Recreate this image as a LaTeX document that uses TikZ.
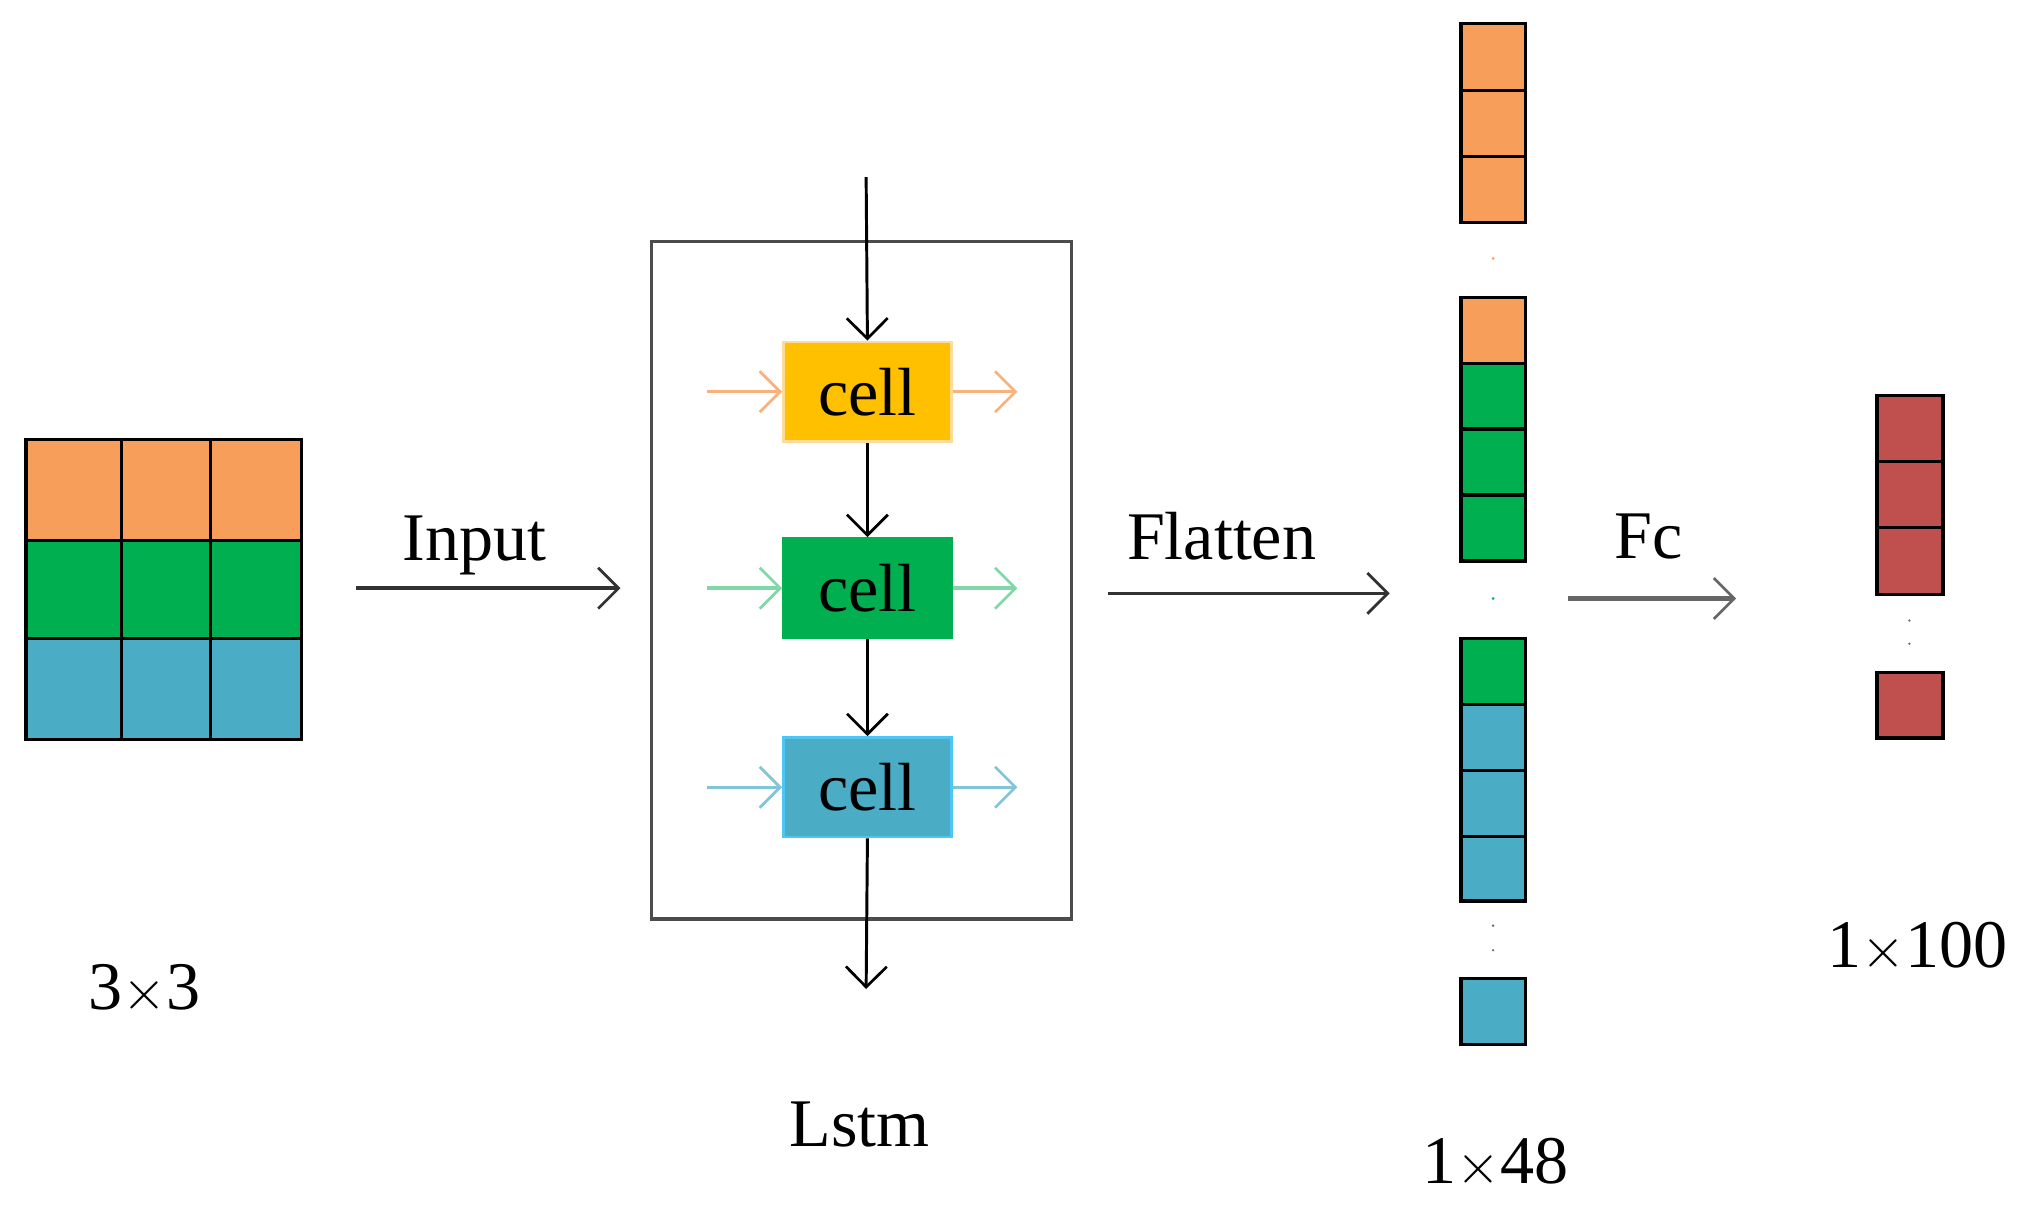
\documentclass[tikz,border=0pt]{standalone}
\usepackage{fontspec}
\setmainfont{Liberation Serif}
\usetikzlibrary{arrows.meta}
\definecolor{org}{HTML}{F79F5A}
\definecolor{grn}{HTML}{00B050}
\definecolor{blu}{HTML}{4BACC6}
\definecolor{yel}{HTML}{FFC000}
\definecolor{red2}{HTML}{C0504D}
\begin{document}
\begin{tikzpicture}[x=0.02cm,y=-0.02cm,
 lbl/.style={font=\fontsize{30}{32}\selectfont},
 tip/.style={-{Straight Barb[length=9pt,width=18pt,line width=1.2pt]}},
 cellbox/.style={draw=black,line width=1.5pt},
 cellnode/.style={minimum width=2.6cm,minimum height=1.54cm,line width=1.2pt,font=\fontsize{30}{32}\selectfont}]
\useasboundingbox (0,0) rectangle (1568,940);
% grid
\foreach \c/\a/\b in {org/340/418,grn/418/494,blu/494/572}{
 \foreach \x/\y in {20/94,94/163,163/233}{
  \fill[\c] (\x,\a) rectangle (\y,\b);
  \draw[cellbox] (\x,\a) rectangle (\y,\b);}}
\node[lbl] (g) at (112,765) {3$\times$3};
% input arrow
\coordinate (i1) at (275,455); \coordinate (i2) at (480,455);
\draw[tip,line width=1.5pt,black!80] (i1) -- (i2);
\node[lbl] (il) at (367,422) {Input};
% lstm
\draw[line width=1.5pt,black!70] (504,187) rectangle (829,711);
\node[cellnode,fill=yel,draw=yel!60!orange!40] (c1) at (671,303) {cell};
\node[cellnode,fill=grn,draw=grn] (c2) at (671,455) {cell};
\node[cellnode,fill=blu,draw=cyan!70] (c3) at (671,609) {cell};
\coordinate (top) at (670,137); \coordinate (bot) at (670,765);
\draw[tip,line width=1.3pt] (top) -- (c1.north);
\draw[tip,line width=1.3pt] (c1.south) -- (c2.north);
\draw[tip,line width=1.3pt] (c2.south) -- (c3.north);
\draw[tip,line width=1.3pt] (c3.south) -- (bot);
\foreach \n/\c in {c1/org!80,c2/grn!50,c3/blu!70}{
 \coordinate (\n l) at ([xshift=-1.16cm]\n.west);
 \coordinate (\n r) at ([xshift=1cm]\n.east);
 \draw[tip,line width=1.5pt,\c] (\n l) -- (\n.west);
 \draw[tip,line width=1.5pt,\c] (\n.east) -- (\n r);}
\node[lbl] (ls) at (665,870) {Lstm};
% flatten
\coordinate (f1) at (857,459); \coordinate (f2) at (1075,459);
\draw[tip,line width=1.5pt,black!80] (f1) -- (f2);
\node[lbl] (fl) at (945,415) {Flatten};
% column
\foreach \c/\a/\b in {org/18/70,org/70/121,org/121/172,org/230/281,grn/281/332,grn/332/383,grn/383/434,grn/494/545,blu/545/596,blu/596/647,blu/647/697,blu/757/808}{
 \fill[\c] (1130,\a) rectangle (1180,\b);
 \draw[cellbox] (1130,\a) rectangle (1180,\b);}
\fill[org] (1155,200) circle (1.2);
\fill[grn] (1155,463) circle (1.2);
\fill[black!60] (1155,716) circle (1) (1155,735) circle (1);
\node[lbl] (l48) at (1157,900) {1$\times$48};
% fc
\coordinate (fc1) at (1213,463); \coordinate (fc2) at (1343,463);
\draw[tip,line width=2.5pt,black!60] (fc1) -- (fc2);
\node[lbl] (fcl) at (1275,415) {Fc};
\foreach \a/\b in {306/357,357/408,408/460,520/571}{
 \fill[red2] (1452,\a) rectangle (1503,\b);
 \draw[cellbox] (1452,\a) rectangle (1503,\b);}
\fill[black!60] (1477,480) circle (1) (1477,498) circle (1);
\node[lbl] (l100) at (1483,733) {1$\times$100};
\end{tikzpicture}
\end{document}
